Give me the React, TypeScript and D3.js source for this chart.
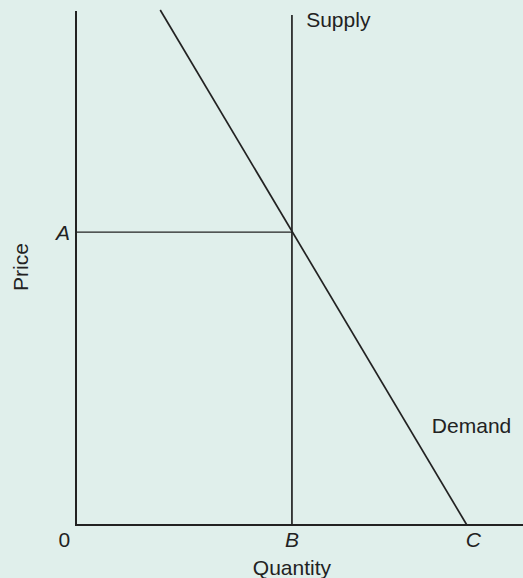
import React from "react";
import * as d3 from "d3";

// Economic model values (abstract units)
const quantityDomain = [0, 10.35];
const priceDomain = [0, 10.53];
const supplyLine = [
  { q: 5, p: 0 },
  { q: 5, p: 10.45 },
];
const demandLine = [
  { q: 1.95, p: 10.55 },
  { q: 9.05, p: 0 },
];
const priceLine = [
  { q: 0, p: 6 },
  { q: 5, p: 6 },
];
const curveLabels = [
  { text: "Supply", q: 5.33, p: 10.2 },
  { text: "Demand", q: 8.24, p: 1.88 },
];
const xTickLabels = [
  { text: "0", q: -0.27, italic: false },
  { text: "B", q: 5, italic: true },
  { text: "C", q: 9.2, italic: true },
];
const yTickLabels = [{ text: "A", p: 6 }];

const W = 523;
const H = 578;
const left = 76;
const right = 523;
const top = 11;
const bottom = 525;
const BG = "#e0efeb";
const INK = "#222222";
const FONT = "'Liberation Sans', Arial, Helvetica, sans-serif";

export default function App() {
  const x = d3.scaleLinear().domain(quantityDomain).range([left, right]);
  const y = d3.scaleLinear().domain(priceDomain).range([bottom, top]);
  const line = d3
    .line<{ q: number; p: number }>()
    .x((d) => x(d.q))
    .y((d) => y(d.p));

  return (
    <svg
      width={W}
      height={H}
      style={{ position: "absolute", left: 0, top: 0, display: "block" }}
      fontFamily={FONT}
    >
      <rect x={0} y={0} width={W} height={H} fill={BG} />
      {/* price line A */}
      <path d={line(priceLine) || ""} stroke={INK} strokeWidth={1.3} fill="none" />
      {/* supply */}
      <path d={line(supplyLine) || ""} stroke={INK} strokeWidth={1.7} fill="none" />
      {/* demand */}
      <path d={line(demandLine) || ""} stroke={INK} strokeWidth={1.7} fill="none" />
      {/* axes */}
      <line x1={x(0)} y1={y(priceDomain[1])} x2={x(0)} y2={y(0) + 1} stroke={INK} strokeWidth={2} />
      <line x1={x(0) - 1} y1={y(0)} x2={x(quantityDomain[1])} y2={y(0)} stroke={INK} strokeWidth={2.2} />

      {curveLabels.map((l) => (
        <text key={l.text} x={x(l.q)} y={y(l.p)} fontSize={21} fill={INK}>
          {l.text}
        </text>
      ))}
      {xTickLabels.map((l) => (
        <text
          key={l.text}
          x={x(l.q)}
          y={547}
          fontSize={21}
          fill={INK}
          textAnchor="middle"
          fontStyle={l.italic ? "italic" : "normal"}
        >
          {l.text}
        </text>
      ))}
      {yTickLabels.map((l) => (
        <text
          key={l.text}
          x={70}
          y={y(l.p) + 7.5}
          fontSize={21}
          fill={INK}
          textAnchor="end"
          fontStyle="italic"
        >
          {l.text}
        </text>
      ))}
      <text x={x(5)} y={575} fontSize={21} fill={INK} textAnchor="middle">
        Quantity
      </text>
      <text
        transform={`translate(28, ${267}) rotate(-90)`}
        fontSize={21}
        fill={INK}
        textAnchor="middle"
      >
        Price
      </text>
    </svg>
  );
}
